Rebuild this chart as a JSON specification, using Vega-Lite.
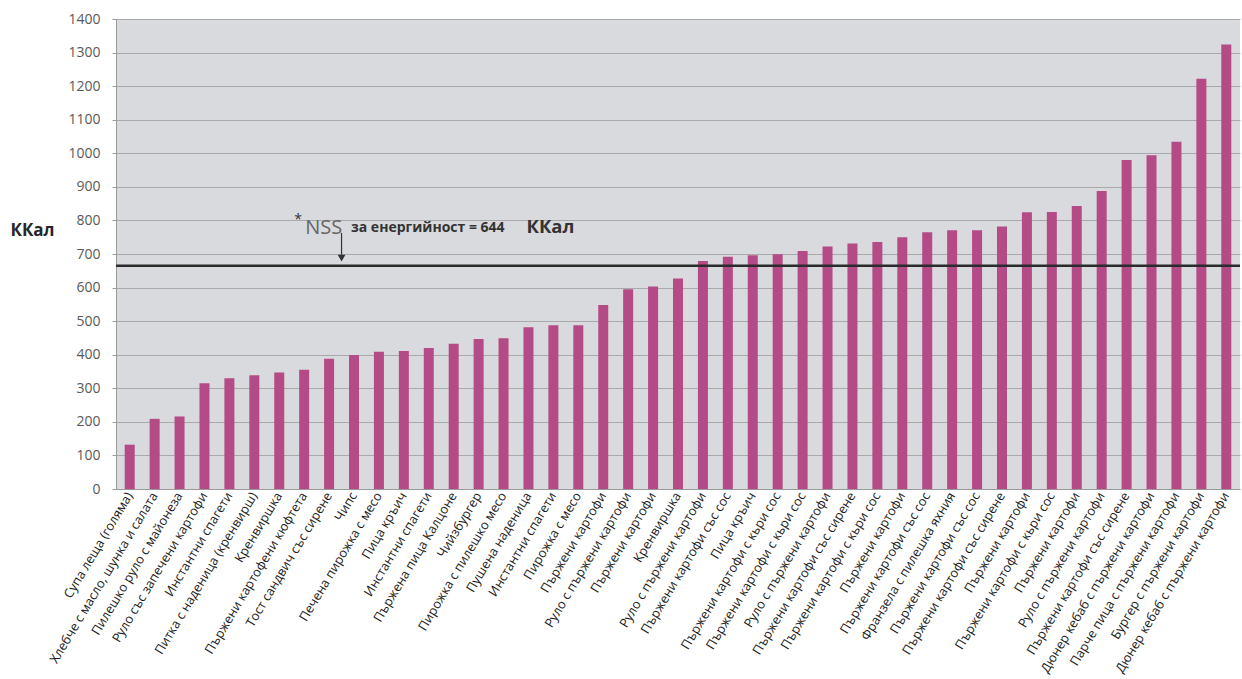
{
  "$schema": "https://vega.github.io/schema/vega-lite/v6.json",
  "autosize": {"type": "none"},
  "width": 1124,
  "height": 470,
  "padding": {"left": 116, "top": 19, "right": 2, "bottom": 190},
  "background": "white",
  "config": {
    "view": {"fill": "#d9dadd", "stroke": null},
    "font": "Open Sans",
    "axisY": {
      "tickCount": 14,
      "format": "d",
      "labelOverlap": false,
      "labelFontSize": 14,
      "labelColor": "#595959",
      "labelPadding": 12,
      "tickSize": 4,
      "tickColor": "#9a9a9a",
      "domainColor": "#9a9a9a",
      "gridColor": "#a9a9ab",
      "gridWidth": 1
    }
  },
  "data": {"values": [
    {"n": 1, "food": "Супа леща (голяма)", "kcal": 132},
    {"n": 2, "food": "Хлебче с масло, шунка и салата", "kcal": 209},
    {"n": 3, "food": "Пилешко руло с майонеза", "kcal": 216},
    {"n": 4, "food": "Руло със запечени картофи", "kcal": 315},
    {"n": 5, "food": "Инстантни спагети", "kcal": 330},
    {"n": 6, "food": "Питка с наденица (кренвирш)", "kcal": 339},
    {"n": 7, "food": "Кренвиршка", "kcal": 347},
    {"n": 8, "food": "Пържени картофени кюфтета", "kcal": 355},
    {"n": 9, "food": "Тост сандвич със сирене", "kcal": 388},
    {"n": 10, "food": "Чипс", "kcal": 399},
    {"n": 11, "food": "Печена пирожка с месо", "kcal": 409},
    {"n": 12, "food": "Пица кръич", "kcal": 411},
    {"n": 13, "food": "Инстантни спагети", "kcal": 420},
    {"n": 14, "food": "Пържена пица Калцоне", "kcal": 433},
    {"n": 15, "food": "Чийзбургер", "kcal": 447},
    {"n": 16, "food": "Пирожка с пилешко месо", "kcal": 449},
    {"n": 17, "food": "Пушена наденица", "kcal": 482},
    {"n": 18, "food": "Инстантни спагети", "kcal": 488},
    {"n": 19, "food": "Пирожка с месо", "kcal": 488},
    {"n": 20, "food": "Пържени картофи", "kcal": 548},
    {"n": 21, "food": "Руло с пържени картофи", "kcal": 595},
    {"n": 22, "food": "Пържени картофи", "kcal": 603},
    {"n": 23, "food": "Кренвиршка", "kcal": 627},
    {"n": 24, "food": "Руло с пържени картофи", "kcal": 679},
    {"n": 25, "food": "Пържени картофи със сос", "kcal": 692},
    {"n": 26, "food": "Пица кръич", "kcal": 696},
    {"n": 27, "food": "Пържени картофи с кьри сос", "kcal": 699},
    {"n": 28, "food": "Пържени картофи с кьри сос", "kcal": 709},
    {"n": 29, "food": "Руло с пържени картофи", "kcal": 722},
    {"n": 30, "food": "Пържени картофи със сирене", "kcal": 731},
    {"n": 31, "food": "Пържени картофи с кьри сос", "kcal": 736},
    {"n": 32, "food": "Пържени картофи", "kcal": 750},
    {"n": 33, "food": "Пържени картофи със сос", "kcal": 765},
    {"n": 34, "food": "Франзела с пилешка яхния", "kcal": 771},
    {"n": 35, "food": "Пържени картофи със сос", "kcal": 771},
    {"n": 36, "food": "Пържени картофи със сирене", "kcal": 782},
    {"n": 37, "food": "Пържени картофи", "kcal": 824},
    {"n": 38, "food": "Пържени картофи с кьри сос", "kcal": 825},
    {"n": 39, "food": "Пържени картофи", "kcal": 843},
    {"n": 40, "food": "Руло с пържени картофи", "kcal": 888},
    {"n": 41, "food": "Пържени картофи със сирене", "kcal": 980},
    {"n": 42, "food": "Дюнер кебаб с пържени картофи", "kcal": 994},
    {"n": 43, "food": "Парче пица с пържени картофи", "kcal": 1034},
    {"n": 44, "food": "Бургер с пържени картофи", "kcal": 1222},
    {"n": 45, "food": "Дюнер кебаб с пържени картофи", "kcal": 1324}
  ]},
  "transform": [{"calculate": "datum.n + '|' + datum.food", "as": "key"}],
  "layer": [
    {
      "mark": {"type": "bar", "color": "#b44a86", "width": 10},
      "encoding": {
        "x": {
          "field": "key", "type": "nominal", "sort": {"field": "n", "op": "min"},
          "scale": {"paddingInner": 0, "paddingOuter": 0.05},
          "axis": {
            "title": null,
            "labelExpr": "split(datum.value, '|')[1]",
            "labelAngle": -59,
            "labelAlign": "right",
            "labelBaseline": "middle",
            "labelFont": "Open Sans",
            "labelFontSize": 12.8,
            "labelColor": "#1a1a1a",
            "labelPadding": 4,
            "labelLimit": 400,
            "labelOverlap": false,
            "ticks": false,
            "domainColor": "#9a9a9a",
            "grid": false
          }
        },
        "y": {
          "field": "kcal", "type": "quantitative",
          "scale": {"domain": [0, 1400], "nice": false},
          "axis": {
            "title": "ККал",
            "titleAngle": 0,
            "titleAlign": "left",
            "titleBaseline": "middle",
            "titleX": -106,
            "titleY": 211,
            "titleFontSize": 17,
            "titleFontWeight": "bold",
            "titleColor": "#262626"
          }
        }
      }
    },
    {
      "data": {"values": [{"nss": 665}]},
      "mark": {"type": "rule", "color": "#2b2b2b", "strokeWidth": 2.5},
      "encoding": {"y": {"field": "nss", "type": "quantitative"}}
    },
    {
      "transform": [{"filter": "datum.n == 9"}],
      "mark": {"type": "rule", "color": "#333333", "strokeWidth": 1.2},
      "encoding": {
        "x": {"field": "key", "type": "nominal", "sort": {"field": "n", "op": "min"}, "bandPosition": 1},
        "y": {"datum": 763, "type": "quantitative"},
        "y2": {"datum": 698}
      }
    },
    {
      "transform": [{"filter": "datum.n == 9"}],
      "mark": {"type": "point", "shape": "triangle-down", "filled": true, "color": "#333333", "size": 60, "opacity": 1},
      "encoding": {
        "x": {"field": "key", "type": "nominal", "sort": {"field": "n", "op": "min"}, "bandPosition": 1},
        "y": {"datum": 688, "type": "quantitative"}
      }
    },
    {
      "transform": [{"filter": "datum.n == 8"}],
      "mark": {"type": "text", "fontSize": 14, "color": "#333333", "dx": -6, "baseline": "middle", "text": "*"},
      "encoding": {
        "x": {"field": "key", "type": "nominal", "sort": {"field": "n", "op": "min"}},
        "y": {"datum": 800, "type": "quantitative"}
      }
    },
    {
      "transform": [{"filter": "datum.n == 8"}],
      "mark": {"type": "text", "fontSize": 20, "color": "#666666", "align": "left", "dx": 1, "baseline": "middle", "text": "NSS"},
      "encoding": {
        "x": {"field": "key", "type": "nominal", "sort": {"field": "n", "op": "min"}},
        "y": {"datum": 776, "type": "quantitative"}
      }
    },
    {
      "transform": [{"filter": "datum.n == 10"}],
      "mark": {"type": "text", "fontSize": 14, "fontWeight": "bold", "color": "#333333", "align": "left", "dx": -3, "baseline": "middle", "text": "за енергийност = 644"},
      "encoding": {
        "x": {"field": "key", "type": "nominal", "sort": {"field": "n", "op": "min"}},
        "y": {"datum": 776, "type": "quantitative"}
      }
    },
    {
      "transform": [{"filter": "datum.n == 17"}],
      "mark": {"type": "text", "fontSize": 18.5, "fontWeight": "bold", "color": "#333333", "align": "left", "dx": -2, "baseline": "middle", "text": "ККал"},
      "encoding": {
        "x": {"field": "key", "type": "nominal", "sort": {"field": "n", "op": "min"}},
        "y": {"datum": 779, "type": "quantitative"}
      }
    }
  ]
}
